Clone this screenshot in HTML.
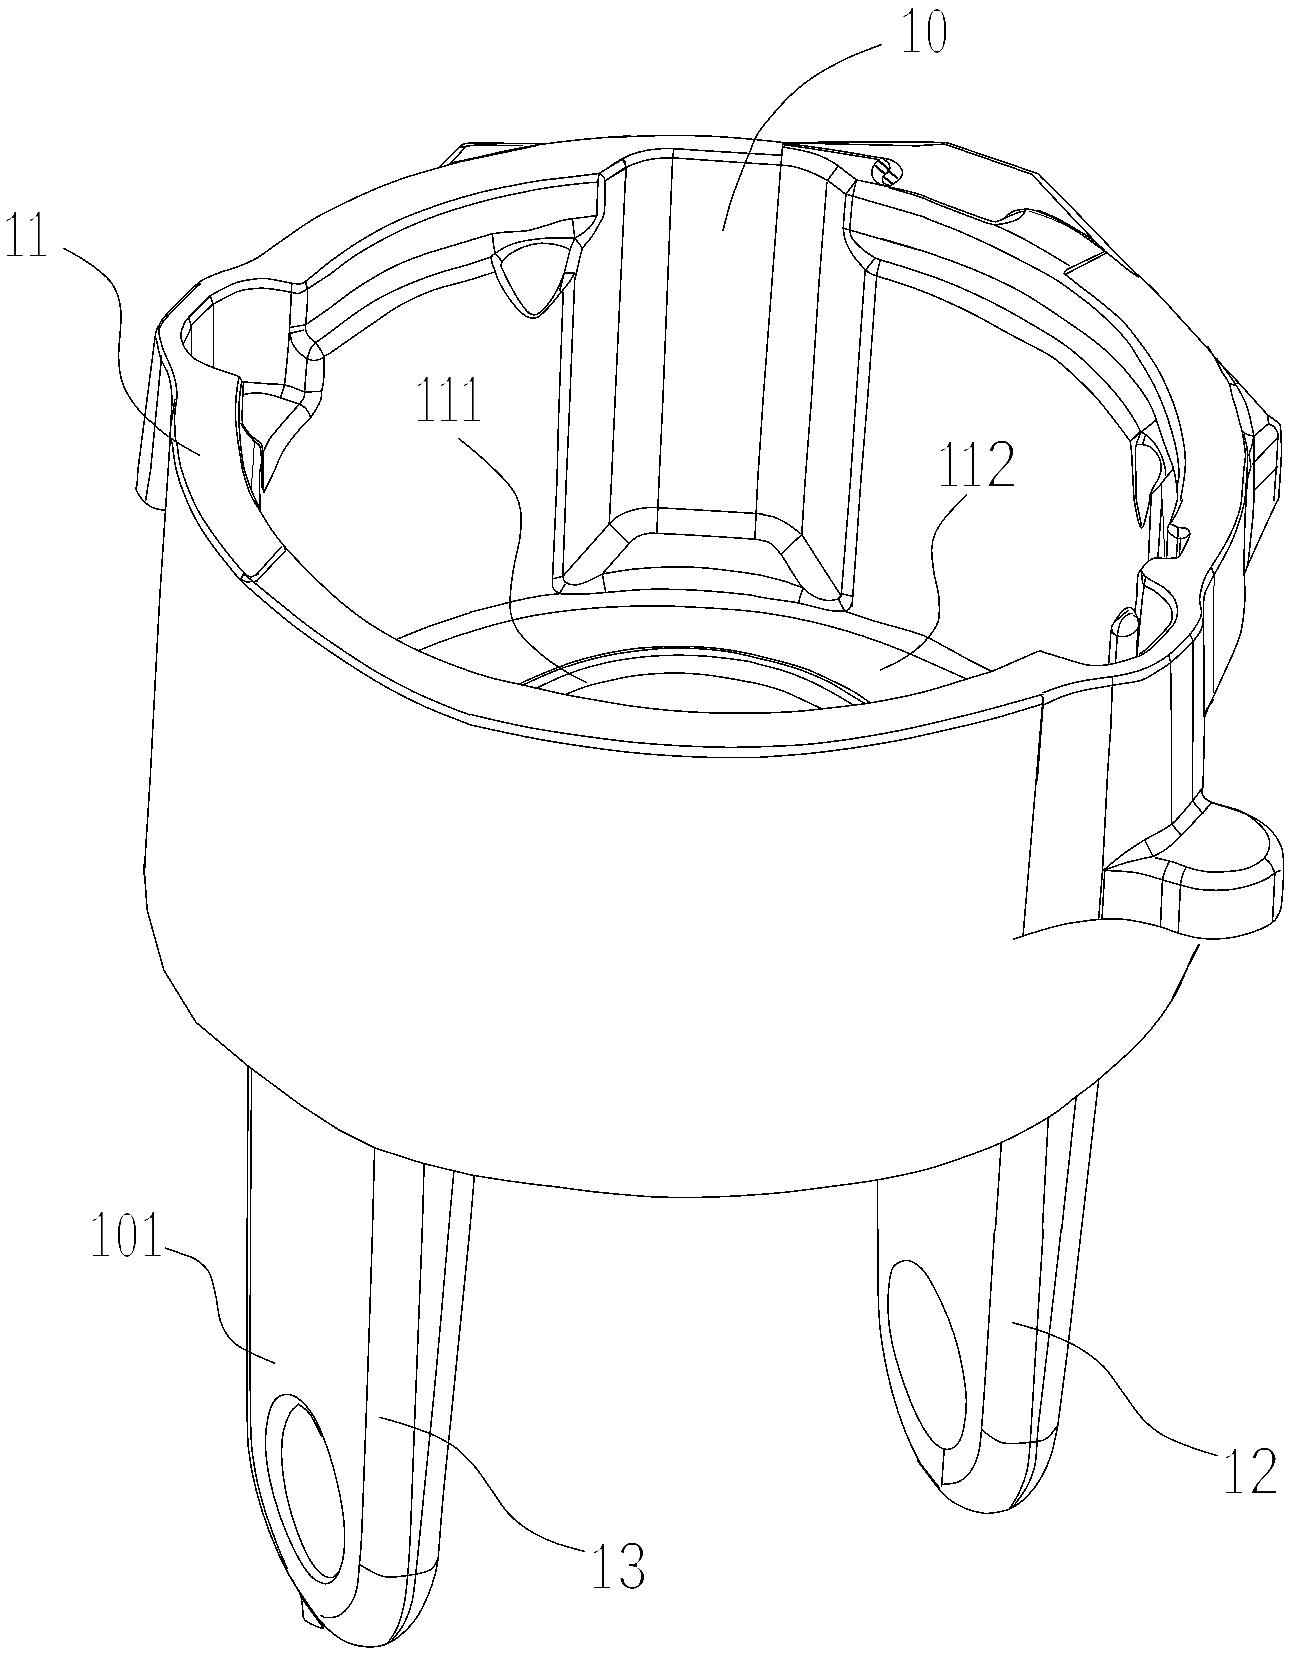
<!DOCTYPE html>
<html><head><meta charset="utf-8"><title>Figure</title>
<style>
html,body{margin:0;padding:0;background:#fff;}
body{width:1293px;height:1657px;overflow:hidden;position:relative;font-family:"Liberation Serif",serif;}
svg{position:absolute;left:0;top:0;display:block}
.m{fill:none;stroke:#000;stroke-width:1.55;stroke-linecap:round;stroke-linejoin:round}
.t{fill:none;stroke:#000;stroke-width:1.0;stroke-linecap:round;stroke-linejoin:round}
.lb{fill:#000;stroke:none}
.fm{font-family:"Liberation Mono",monospace}
.fs{font-family:"Liberation Sans",sans-serif}
.b{fill:none;stroke:#000;stroke-width:2.2;stroke-linecap:round;stroke-linejoin:round}
</style></head><body>
<svg width="1293" height="1657" viewBox="0 0 1293 1657" shape-rendering="crispEdges">
<path class="m" d="M376.4,188.4C372.5,190.2 362.3,194.6 353.2,198.9C344.1,203.2 329.2,210.7 321.9,214.4C314.6,218.2 313.6,219.0 309.5,221.6C305.4,224.2 301.2,227.1 297.1,229.9C293.0,232.7 288.9,235.7 284.7,238.6C280.6,241.5 277.1,243.9 272.4,247.2C267.6,250.6 261.7,255.4 256.1,258.5C250.6,261.7 245.3,263.8 239.1,266.2C232.9,268.6 224.9,270.6 218.7,273.0C212.4,275.4 206.8,277.4 201.7,280.6C196.6,283.9 192.6,288.3 188.1,292.5C183.5,296.8 178.6,301.9 174.4,306.1C170.3,310.4 166.1,314.7 163.4,318.1C160.7,321.5 159.5,324.3 158.3,326.6C157.1,328.8 156.6,329.7 156.1,331.7C155.5,333.7 155.1,337.3 154.9,338.5 M154.9,338.5 L137.9,470.0 M161.7,355.5 L150.6,470.0 M158.3,326.6C158.6,328.6 159.0,334.2 160.0,338.5C161.0,342.7 162.4,347.3 164.2,352.1C166.1,356.9 169.2,362.6 171.0,367.4C172.9,372.2 174.3,376.5 175.3,381.0C176.3,385.6 176.9,390.9 177.0,394.6C177.1,398.3 176.5,400.0 176.1,403.1C175.8,406.3 174.9,407.7 174.8,413.3C174.6,419.0 174.9,432.1 175.3,437.2C175.7,442.2 176.7,442.4 177.0,443.5 M156.1,338.5C156.9,341.9 158.9,353.2 160.8,358.9C162.8,364.6 165.9,368.0 167.6,372.5C169.3,377.0 170.3,381.6 171.0,386.1C171.8,390.7 171.9,394.1 171.9,399.7C171.9,405.4 171.3,413.9 171.0,420.1C170.8,426.4 170.0,433.3 170.2,437.2C170.4,441.0 171.9,442.4 172.2,443.5 M174.8,399.7 L171.0,425.3 M330.0,261.5 L305.5,281.5 M305.5,281.5C304.6,281.9 302.6,283.7 300.4,284.0C298.1,284.3 295.5,283.7 291.8,283.2C288.2,282.6 282.8,281.4 278.2,280.6C273.7,279.8 268.9,278.6 264.6,278.4C260.4,278.2 257.3,278.6 252.7,279.3C248.2,279.9 242.5,280.7 237.4,282.3C232.3,284.0 226.6,286.9 222.1,289.1C217.6,291.4 212.2,294.8 210.2,295.9 M210.2,295.9C206.5,299.6 192.5,313.2 188.1,318.1C183.7,322.9 185.0,322.3 183.8,324.9C182.6,327.4 181.2,330.5 180.9,333.4C180.6,336.2 181.2,339.0 182.1,341.9C183.0,344.7 184.2,347.6 186.4,350.4C188.5,353.2 191.2,356.3 194.9,358.9C198.6,361.4 203.9,363.7 208.5,365.7C213.0,367.7 218.1,369.4 222.1,370.8C226.1,372.2 229.5,373.2 232.3,374.2C235.1,375.2 237.5,375.6 239.1,376.8C240.7,377.9 241.2,380.3 241.7,381.0 M330.0,274.3 L307.2,289.1 M307.2,289.1C305.7,289.8 301.3,292.9 298.7,293.4C296.0,293.9 294.4,292.8 291.0,292.2C287.6,291.6 282.6,290.6 278.2,290.0C273.8,289.3 268.9,288.5 264.6,288.3C260.4,288.1 257.3,288.2 252.7,288.8C248.2,289.4 244.1,289.1 237.4,291.7C230.7,294.3 216.8,302.3 212.7,304.4 M212.7,304.4 L191.5,324.9 M210.2,295.9 L213.2,304.4 M188.9,318.1C189.2,319.8 191.5,324.2 190.6,328.3C189.8,332.4 184.9,340.3 183.8,342.7 M291.8,283.2C291.6,289.0 290.7,307.7 290.1,318.1C289.6,328.4 289.2,336.2 288.4,345.3C287.7,354.4 286.6,365.7 285.9,372.5C285.2,379.3 285.0,382.1 284.2,386.1C283.3,390.1 281.4,394.6 280.8,396.3 M305.5,281.5C305.8,283.0 307.2,286.7 307.5,290.8C307.8,294.9 307.5,300.2 307.2,306.1C306.8,312.1 305.7,322.6 305.5,326.6C305.2,330.5 305.5,329.4 305.5,330.0 M290.1,327.4 L305.5,324.9 M290.1,333.4 L303.8,330.0 M330.0,307.9 L305.5,324.9 M330.0,332.3 L315.7,342.7 M330.0,353.2 L324.2,356.3 M305.5,330.0C306.0,331.1 307.2,334.6 308.9,336.8C310.6,338.9 313.7,340.5 315.7,342.7C317.7,345.0 319.4,348.1 320.8,350.4C322.2,352.7 323.6,355.3 324.2,356.3 M290.1,333.4C290.4,334.8 290.7,339.0 291.8,341.9C293.0,344.7 295.0,348.0 297.0,350.4C298.9,352.8 302.1,354.9 303.8,356.3C305.5,357.8 306.6,358.5 307.2,358.9 M307.2,358.9C308.3,359.2 311.7,360.6 314.0,360.6C316.2,360.6 319.1,359.6 320.8,358.9C322.5,358.2 323.6,356.8 324.2,356.3 M315.7,342.7C314.8,343.7 312.0,346.0 310.6,348.7C309.1,351.4 307.7,357.2 307.2,358.9 M307.2,358.9C306.9,362.3 305.9,373.8 305.5,379.3C305.0,384.8 304.8,389.9 304.6,392.1 M324.2,356.3C324.2,358.5 324.3,364.7 324.2,369.1C324.0,373.5 323.8,379.0 323.3,382.7C322.9,386.4 322.0,388.4 321.6,391.2C321.2,394.1 321.8,396.6 320.8,399.7C319.8,402.8 317.4,407.0 315.7,409.9C314.0,412.9 311.4,416.3 310.6,417.6 M304.6,392.1 L321.6,391.2 M304.6,392.1C304.5,393.1 304.6,396.0 303.8,398.0C302.9,400.0 300.2,403.0 299.5,404.0 M241.7,381.9C245.5,382.1 257.3,383.0 264.6,383.6C272.0,384.1 279.2,383.8 285.9,385.3C292.6,386.7 301.5,390.9 304.6,392.1 M243.4,394.6C245.5,394.3 251.7,392.9 256.1,392.9C260.5,392.9 265.2,393.6 269.7,394.6C274.3,395.6 278.4,397.3 283.3,398.9C288.3,400.4 296.8,403.1 299.5,404.0 M299.5,404.0C300.5,404.7 303.9,406.7 305.5,408.2C307.0,409.8 308.0,411.8 308.9,413.3C309.7,414.9 310.3,416.9 310.6,417.6 M299.5,404.0C297.4,406.4 290.6,414.1 286.7,418.4C282.9,422.8 279.4,427.0 276.5,430.4C273.7,433.8 271.7,435.7 269.7,438.9C267.7,442.0 265.8,446.5 264.6,449.1C263.5,451.6 263.2,453.3 262.9,454.2 M310.6,417.6C308.6,419.7 302.6,425.7 298.7,430.4C294.7,435.0 289.9,441.1 286.7,445.7C283.6,450.2 281.9,453.5 279.9,457.6C278.0,461.6 275.7,467.9 274.8,470.0 M239.1,376.8C238.8,378.3 238.0,381.7 237.4,386.1C236.8,390.5 236.0,397.5 235.7,403.1C235.4,408.8 235.4,414.5 235.7,420.1C236.0,425.8 236.7,431.5 237.4,437.2C238.1,442.8 239.1,448.7 240.0,454.2C240.8,459.6 242.1,467.4 242.5,470.0 M241.7,381.0C241.2,384.7 239.5,396.0 239.1,403.1C238.7,410.2 239.0,417.9 239.1,423.5C239.2,429.2 239.5,432.1 240.0,437.2C240.4,442.3 240.9,448.7 241.7,454.2C242.4,459.6 243.8,467.4 244.2,470.0 M243.4,382.7C243.2,386.1 242.7,396.9 242.5,403.1C242.3,409.4 242.0,416.5 242.2,420.1C242.3,423.8 242.2,423.0 243.4,425.3C244.5,427.5 247.2,431.3 249.3,433.8C251.4,436.2 254.1,438.0 256.1,439.7C258.1,441.4 260.1,441.6 261.2,444.0C262.4,446.4 262.6,449.8 262.9,454.2C263.2,458.5 262.9,467.4 262.9,470.0 M240.8,423.5C241.9,425.3 245.3,430.8 247.6,433.8C249.9,436.7 252.4,439.4 254.4,441.4C256.4,443.4 258.4,443.5 259.5,445.7C260.7,447.8 260.9,450.1 261.2,454.2C261.5,458.2 261.2,467.4 261.2,470.0 M376.4,188.4C381.0,186.7 393.8,181.5 404.2,178.0C414.7,174.5 428.2,170.7 439.0,167.6C449.9,164.5 458.4,162.2 469.2,159.4C480.0,156.7 492.4,153.8 504.0,151.3C515.6,148.9 527.2,146.6 538.8,144.8C550.4,143.0 562.8,141.6 573.6,140.4C584.4,139.2 594.4,138.4 603.8,137.6C613.2,136.9 625.6,136.1 630.0,135.8 M439.0,167.6 L459.9,146.7 M459.9,146.7C460.5,146.3 461.9,144.7 463.4,144.1C465.0,143.5 467.1,143.4 469.2,143.2C471.3,143.0 475.0,143.2 476.2,143.2 M475.0,143.2 L543.5,143.4 M450.6,163.4 L466.4,146.0 M330.0,261.5C333.9,258.8 345.5,250.3 353.2,245.3C360.9,240.3 368.7,235.6 376.4,231.4C384.1,227.1 391.9,223.2 399.6,219.8C407.3,216.3 415.1,213.4 422.8,210.5C430.5,207.6 438.3,204.9 446.0,202.4C453.7,199.9 461.5,197.5 469.2,195.4C476.9,193.3 484.7,191.3 492.4,189.6C500.1,187.9 507.9,186.4 515.6,185.0C523.3,183.5 531.1,181.9 538.8,180.8C546.6,179.6 554.3,178.9 562.0,178.0C569.8,177.1 579.0,176.0 585.2,175.2C591.4,174.4 596.8,173.7 599.1,173.4 M599.1,173.4 L630.0,154.8 M330.0,274.3C333.9,271.4 345.5,262.1 353.2,256.9C360.9,251.7 368.7,247.3 376.4,243.0C384.1,238.6 391.9,234.6 399.6,230.9C407.3,227.2 415.1,224.0 422.8,220.9C430.5,217.8 438.3,215.0 446.0,212.3C453.7,209.7 461.5,207.4 469.2,205.2C476.9,202.9 484.7,200.8 492.4,198.9C500.1,197.0 507.9,195.4 515.6,193.8C523.3,192.2 531.1,190.5 538.8,189.1C546.6,187.8 554.3,186.7 562.0,185.7C569.8,184.7 579.2,183.7 585.2,183.1C591.2,182.5 595.9,182.3 598.0,182.2 M604.9,180.8 L630.0,165.7 M330.0,307.9C333.9,305.0 345.5,295.9 353.2,290.5C360.9,285.2 368.7,280.4 376.4,275.9C384.1,271.5 391.5,267.5 399.6,263.9C407.7,260.2 417.4,256.8 425.1,254.1C432.9,251.4 438.7,249.9 446.0,247.6C453.4,245.4 461.5,243.0 469.2,240.6C476.9,238.3 488.5,234.8 492.4,233.7 M492.4,233.7C494.7,233.4 500.5,232.6 506.3,232.1C512.1,231.6 521.0,231.6 527.2,230.7C533.4,229.7 537.7,228.0 543.5,226.3C549.3,224.6 557.0,221.7 562.0,220.5C567.0,219.2 567.8,219.4 573.6,218.6C579.4,217.8 593.0,216.1 596.8,215.6 M330.0,332.3C333.9,329.4 345.5,320.3 353.2,314.9C360.9,309.5 368.7,304.3 376.4,299.8C384.1,295.4 391.5,291.9 399.6,288.2C407.7,284.5 417.4,280.7 425.1,277.8C432.9,274.9 438.7,273.1 446.0,270.8C453.4,268.6 461.5,266.7 469.2,264.3C476.9,261.9 488.5,257.7 492.4,256.4 M330.0,353.2C333.9,350.5 346.2,341.8 353.2,336.9C360.2,332.1 364.0,329.4 371.8,324.2C379.5,319.0 389.6,311.2 399.6,305.6C409.7,300.0 420.5,294.8 432.1,290.5C443.7,286.3 458.8,283.2 469.2,280.1C479.7,277.0 490.5,273.3 494.7,272.0 M599.1,173.4C599.7,173.8 601.7,174.4 602.6,175.7C603.6,176.9 604.6,176.5 604.9,180.8C605.3,185.0 605.1,195.5 604.9,201.2C604.7,206.9 604.7,211.3 603.8,215.1C602.8,219.0 601.1,220.9 599.1,224.4C597.2,227.9 594.9,232.1 592.2,236.0C589.5,239.9 584.4,245.7 582.9,247.6 M599.1,173.4C598.9,174.8 598.3,177.9 598.0,182.2C597.7,186.4 597.5,193.3 597.3,198.9C597.1,204.5 596.9,212.8 596.8,215.6 M596.8,215.6C596.0,217.1 594.1,221.8 592.2,224.4C590.2,227.0 588.1,229.0 585.2,231.4C582.3,233.7 576.5,237.2 574.8,238.3 M492.4,233.7C492.6,235.6 493.1,242.0 493.6,245.3C494.0,248.6 494.9,252.1 495.2,253.4 M495.2,253.4C494.5,254.0 491.7,255.2 491.3,256.9C490.8,258.6 491.6,261.1 492.4,263.9C493.2,266.6 495.3,271.6 495.9,273.1 M495.2,253.4C496.3,254.8 500.8,259.6 501.7,261.5C502.6,263.5 500.7,264.4 500.5,265.0 M495.2,253.4C497.1,252.3 502.2,248.4 506.3,246.5C510.5,244.5 514.8,243.1 520.3,241.8C525.7,240.5 532.6,239.5 538.8,238.8C545.0,238.1 551.4,237.9 557.4,237.9C563.4,237.8 571.9,238.3 574.8,238.3 M501.7,261.5C503.2,260.2 507.1,255.9 511.0,253.4C514.8,250.9 520.3,248.1 524.9,246.5C529.5,244.8 534.2,243.8 538.8,243.4C543.5,243.0 548.5,243.5 552.7,244.1C557.0,244.7 561.4,246.2 564.3,247.1C567.2,248.1 569.2,249.5 570.1,249.9 M572.5,218.6C572.7,220.3 573.2,225.8 573.6,229.0C574.0,232.3 574.6,236.8 574.8,238.3 M574.8,238.3C575.9,239.9 580.8,244.9 581.7,247.6C582.7,250.3 581.7,249.2 580.6,254.6C579.4,260.0 575.7,275.8 574.8,280.1 M574.8,238.3C574.0,240.3 571.9,244.1 570.1,249.9C568.4,255.7 566.1,266.4 564.3,273.1C562.6,279.9 560.5,287.6 559.7,290.5 M564.3,273.1 L574.8,273.1 M492.4,263.9C493.6,266.9 496.3,276.2 499.4,282.4C502.5,288.6 507.1,295.8 511.0,301.0C514.8,306.2 519.5,311.0 522.6,313.7C525.7,316.5 527.0,317.1 529.5,317.7C532.0,318.3 534.6,318.8 537.7,317.2C540.8,315.6 544.4,311.8 548.1,307.9C551.8,304.1 556.2,298.3 559.7,294.0C563.2,289.8 566.5,285.9 569.0,282.4C571.5,278.9 573.8,274.7 574.8,273.1 M500.5,265.0C501.9,267.9 505.8,276.8 508.7,282.4C511.6,288.0 514.8,293.8 517.9,298.7C521.0,303.5 524.5,308.7 527.2,311.4C529.9,314.1 531.9,314.9 534.2,314.9C536.5,314.9 538.4,313.7 541.1,311.4C543.8,309.1 547.5,305.0 550.4,301.0C553.3,296.9 556.4,291.3 558.5,287.1C560.7,282.8 562.2,277.8 563.2,275.5C564.1,273.1 564.1,273.5 564.3,273.1 M559.7,290.5 L563.2,292.9 M563.2,292.9 L558.5,420.0 L557.0,480.0 M574.8,277.8 L569.0,420.0 L566.3,480.0 M624.7,160.6C624.9,162.2 625.9,167.0 626.1,169.9C626.2,172.8 625.9,176.7 625.8,178.0 M610.0,137.6C615.8,137.3 633.2,136.3 644.8,136.0C656.4,135.6 668.0,135.4 679.6,135.5C691.2,135.6 702.8,135.8 714.4,136.4C726.0,137.0 737.8,138.0 749.2,139.0C760.6,140.0 777.2,141.9 782.9,142.5 M610.0,166.1C611.9,165.0 617.7,161.2 621.6,159.2C625.5,157.1 628.9,155.3 633.2,153.8C637.5,152.4 642.5,151.2 647.1,150.3C651.8,149.5 656.6,149.0 661.0,148.7C665.5,148.5 666.8,148.4 673.8,148.7C680.8,149.0 690.2,149.8 702.8,150.6C715.4,151.4 736.3,152.6 749.2,153.4C762.2,154.1 775.3,154.9 780.5,155.2 M610.0,177.7C612.3,176.2 619.3,171.0 623.9,168.4C628.6,165.9 633.2,164.2 637.8,162.6C642.5,161.1 647.5,159.9 651.8,159.2C656.0,158.4 659.7,158.2 663.4,158.0C667.0,157.8 667.2,157.7 673.8,158.0C680.4,158.3 690.2,159.0 702.8,159.9C715.4,160.7 736.3,162.3 749.2,163.1C762.2,164.0 775.3,164.7 780.5,165.0 M673.8,148.7 L672.6,158.0 L670.3,216.0 L662.9,400.0 L659.1,480.0 M622.8,159.9C623.2,160.7 624.8,163.3 625.3,165.0C625.8,166.6 625.7,168.8 625.8,169.6 M625.8,169.6 L621.6,262.4 L615.1,400.0 L611.5,480.0 M782.9,142.5 L780.5,169.6 L763.1,400.0 L757.7,480.0 M826.9,182.4 L818.8,285.6 L811.4,400.0 L805.2,480.0 M880.3,260.1 L876.8,274.0 L867.5,400.0 L860.9,480.0 M865.2,269.4 L855.9,400.0 L850.5,480.0 M881.6,44.5C876.8,46.4 861.3,52.0 852.8,55.7C844.3,59.4 837.3,63.1 830.5,66.8C823.7,70.5 817.8,73.9 812.0,78.0C806.1,82.0 800.5,86.3 795.3,91.0C790.0,95.6 786.5,98.9 780.4,105.8C774.3,112.7 763.7,124.6 758.5,132.5C753.3,140.4 752.3,146.0 749.2,153.4C746.1,160.7 743.0,168.4 739.9,176.6C736.8,184.7 733.5,193.1 730.6,202.1C727.8,211.1 724.3,225.7 723.0,230.4 M783.5,142.4 L920.0,141.9 M783.5,142.8 L920.0,145.9 M783.5,143.4C787.8,143.9 799.0,145.1 809.5,146.5C820.0,147.9 836.3,150.4 846.6,152.1C856.9,153.7 865.2,155.4 871.4,156.4C877.6,157.4 880.4,157.6 883.7,158.3C887.0,158.9 888.9,159.2 891.2,160.1C893.4,161.0 895.6,162.3 897.4,163.8C899.1,165.4 900.9,167.6 901.7,169.4C902.5,171.1 902.6,172.8 902.3,174.3C902.0,175.9 901.1,177.2 899.8,178.7C898.6,180.1 895.7,182.3 894.9,183.0 M783.5,144.6C787.8,145.3 799.0,146.8 809.5,148.4C820.0,150.0 835.1,152.4 846.6,154.3C858.2,156.2 873.4,158.6 878.8,159.5 M783.5,147.1C785.8,147.5 792.2,148.6 797.1,149.6C802.1,150.6 808.3,151.8 813.2,153.3C818.2,154.9 822.7,156.8 826.8,158.9C830.9,160.9 834.7,163.4 838.0,165.7C841.3,168.0 843.5,170.1 846.6,172.5C849.7,174.9 854.9,178.7 856.5,179.9 M760.0,163.8C763.5,164.0 775.7,164.7 781.0,165.1C786.4,165.5 788.5,165.6 792.2,166.3C795.9,167.0 799.4,168.1 803.3,169.4C807.2,170.7 811.7,172.5 815.7,174.3C819.7,176.2 823.9,178.4 827.4,180.5C830.9,182.7 833.7,185.1 836.7,187.3C839.7,189.6 843.9,193.0 845.4,194.1 M838.0,166.3 L827.4,180.5 M856.5,179.9 L846.0,194.1 M856.5,179.9C855.9,182.7 853.7,190.7 852.8,196.6C851.9,202.5 851.5,209.6 851.0,215.2C850.4,220.8 849.9,227.6 849.7,230.0 M846.0,194.1C845.7,197.7 844.6,209.4 844.1,215.2C843.7,221.0 843.4,224.9 843.5,228.8C843.6,232.7 843.8,235.4 844.8,238.7C845.7,242.0 847.3,245.3 849.1,248.6C850.8,251.9 852.6,255.0 855.3,258.5C858.0,262.0 863.5,267.8 865.2,269.6 M849.7,230.0C850.0,231.3 850.2,235.0 851.6,237.5C852.9,239.9 855.3,242.4 857.8,244.9C860.2,247.4 863.5,250.1 866.4,252.3C869.3,254.5 873.6,256.9 875.1,257.9 M875.1,257.9 L865.8,270.0 M878.8,159.5C878.1,160.3 875.6,162.6 874.5,164.4C873.3,166.3 872.3,168.6 872.0,170.6C871.7,172.7 871.9,175.0 872.6,176.8C873.3,178.7 874.9,180.4 876.3,181.8C877.8,183.1 879.2,184.2 881.3,184.9C883.3,185.5 887.5,185.6 888.7,185.7 M883.7,159.5C884.6,160.1 887.7,161.8 888.7,163.2C889.7,164.7 889.9,166.7 889.9,168.2C889.9,169.6 889.5,170.8 888.7,171.9C887.9,172.9 886.0,173.3 885.0,174.3C883.9,175.4 882.7,176.6 882.5,178.1C882.3,179.5 882.5,181.8 883.7,183.0C885.0,184.2 888.2,185.4 889.9,185.5C891.7,185.6 893.5,183.9 894.3,183.6 M856.5,179.9C859.0,180.4 865.0,181.6 871.4,183.0C877.8,184.4 886.8,186.3 894.9,188.2C903.0,190.1 913.1,192.3 920.0,194.5C926.9,196.7 925.2,197.0 936.4,201.2C947.6,205.4 977.4,216.4 987.4,219.8C997.5,223.1 994.0,221.6 996.7,221.4C999.4,221.2 1001.4,220.0 1003.7,218.6C1006.0,217.2 1008.3,214.2 1010.6,212.8C1013.0,211.4 1014.5,210.6 1017.6,210.0C1020.7,209.4 1025.7,209.1 1029.2,209.3C1032.7,209.6 1034.6,210.3 1038.5,211.6C1042.4,213.0 1047.0,214.7 1052.4,217.4C1057.8,220.2 1065.2,224.4 1071.0,227.9C1076.8,231.4 1081.4,234.3 1087.2,238.3C1093.0,242.4 1102.7,249.9 1105.8,252.3 M888.7,187.7C893.9,189.2 912.0,194.2 920.0,196.9C928.0,199.5 925.5,199.5 936.4,203.8C947.3,208.0 975.1,218.9 985.1,222.3C995.2,225.8 992.9,224.4 996.7,224.4C1000.6,224.4 1004.8,223.4 1008.3,222.6C1011.8,221.7 1015.1,220.7 1017.6,219.3C1020.1,217.9 1022.2,215.4 1023.4,214.0C1024.6,212.6 1024.8,211.5 1025.0,211.0 M1003.7,218.8C1004.8,218.3 1008.1,216.7 1010.6,215.6C1013.2,214.5 1016.3,213.1 1018.8,212.3C1021.3,211.6 1024.6,211.2 1025.7,211.0 M1038.5,210.5C1041.6,211.8 1050.9,215.3 1057.1,218.4C1063.2,221.5 1069.8,225.6 1075.6,229.0C1081.4,232.5 1087.0,235.7 1091.9,239.3C1096.7,242.8 1102.5,248.5 1104.6,250.4 M846.0,194.1C850.2,195.4 859.0,198.0 871.4,201.6C883.7,205.2 910.2,212.7 920.0,215.8C929.8,218.9 924.1,217.5 930.4,220.0C936.8,222.5 948.5,226.7 958.3,230.8C968.1,235.0 978.9,239.9 989.2,244.7C999.5,249.6 1009.5,254.7 1020.1,260.2C1030.8,265.8 1043.8,272.3 1053.2,278.0C1062.6,283.7 1068.7,288.4 1076.4,294.2C1084.1,300.0 1091.3,305.2 1099.6,312.8C1107.9,320.4 1119.9,332.2 1126.4,340.0C1133.0,347.8 1134.9,352.9 1139.0,359.3C1143.0,365.7 1147.3,372.8 1150.5,378.6C1153.8,384.4 1155.7,388.3 1158.3,394.1C1160.8,399.9 1163.7,407.1 1166.0,413.4C1168.2,419.6 1170.2,426.2 1171.8,431.7C1173.4,437.2 1174.6,441.4 1175.6,446.2C1176.7,451.0 1177.5,455.9 1178.1,460.7C1178.6,465.5 1179.1,471.1 1179.0,475.2C1178.9,479.2 1177.8,480.7 1177.6,484.8C1177.3,488.9 1177.6,497.4 1177.6,500.0 M843.5,228.8C844.6,229.0 837.0,226.4 849.7,230.0C862.5,233.6 914.8,249.0 920.0,250.4C925.2,251.9 879.7,238.2 880.9,238.6C882.2,238.9 911.9,247.3 927.3,252.5C942.8,257.6 960.9,264.3 973.7,269.5C986.6,274.7 995.7,279.0 1004.7,283.4C1013.7,287.8 1018.5,290.1 1027.9,295.8C1037.3,301.5 1050.3,310.2 1060.9,317.4C1071.6,324.7 1082.8,332.1 1091.9,339.1C1100.9,346.1 1107.9,352.0 1115.1,359.2C1122.3,366.4 1129.5,375.2 1135.2,382.4C1140.9,389.6 1145.6,396.3 1149.1,402.5C1152.6,408.8 1155.2,417.0 1156.4,419.9 M875.1,257.9C875.9,258.2 873.9,257.8 880.0,259.7C886.2,261.7 901.4,266.1 911.9,269.5C922.3,272.9 932.5,276.3 942.8,280.3C953.1,284.3 963.4,288.7 973.7,293.5C984.1,298.2 995.7,304.2 1004.7,308.9C1013.7,313.7 1018.5,316.5 1027.9,322.1C1037.3,327.6 1051.6,335.8 1060.9,342.2C1070.3,348.6 1076.4,353.8 1084.1,360.8C1091.9,367.7 1100.9,377.0 1107.3,384.0C1113.8,390.9 1118.3,396.5 1122.8,402.5C1127.3,408.5 1131.4,415.1 1134.5,420.0C1137.5,425.0 1139.9,430.2 1141.0,432.3 M865.5,269.5C866.2,270.1 867.5,272.1 870.1,273.4C872.7,274.7 874.0,274.9 880.9,277.2C887.9,279.6 901.6,283.5 911.9,287.3C922.2,291.0 932.5,295.1 942.8,299.7C953.1,304.2 963.4,309.1 973.7,314.4C984.1,319.6 995.7,326.5 1004.7,331.4C1013.7,336.3 1019.8,339.4 1027.9,343.7C1036.0,348.1 1045.1,352.0 1053.2,357.7C1061.3,363.3 1069.2,371.1 1076.4,377.8C1083.6,384.5 1090.2,390.8 1096.5,397.9C1102.8,404.9 1108.7,412.8 1114.3,420.0C1119.9,427.2 1127.5,437.6 1130.1,441.1 M993.9,224.6C998.2,226.7 1010.8,232.1 1020.1,237.0C1029.5,241.9 1041.9,249.3 1050.1,254.0C1058.3,258.8 1066.2,263.7 1069.4,265.6 M1064.0,273.4 L1066.3,269.8 L1104.2,251.7 M1065.3,274.4 L1105.8,253.4 M1064.0,273.4C1066.1,275.0 1070.5,278.8 1076.4,283.4C1082.3,288.1 1091.9,294.9 1099.6,301.2C1107.3,307.5 1116.4,314.8 1122.8,321.3C1129.2,327.8 1133.7,334.5 1138.0,340.0C1142.3,345.5 1145.2,349.5 1148.6,354.5C1152.0,359.5 1155.4,364.8 1158.3,369.9C1161.2,375.1 1163.6,380.1 1166.0,385.4C1168.4,390.7 1170.7,396.2 1172.8,401.8C1174.8,407.4 1176.9,413.4 1178.5,419.2C1180.2,425.0 1181.4,431.2 1182.4,436.5C1183.5,441.9 1184.3,446.2 1184.8,451.0C1185.3,455.9 1185.5,460.7 1185.3,465.5C1185.1,470.3 1184.7,474.2 1183.9,480.0C1183.1,485.7 1181.0,496.6 1180.5,500.0 M1040.8,176.8C1044.2,180.1 1053.7,189.1 1060.9,196.3C1068.2,203.6 1076.4,212.3 1084.1,220.3C1091.9,228.3 1101.7,238.4 1107.3,244.3C1113.0,250.2 1114.3,251.9 1118.2,255.9C1122.0,259.9 1125.9,263.9 1130.5,268.3C1135.2,272.7 1140.9,277.3 1146.0,282.2C1151.2,287.1 1156.3,292.3 1161.5,297.7C1166.6,303.1 1171.8,309.0 1176.9,314.7C1182.1,320.4 1187.3,326.0 1192.4,331.7C1197.6,337.4 1203.8,344.1 1207.9,348.7C1211.9,353.4 1212.7,355.0 1216.7,359.6C1220.8,364.1 1227.1,370.3 1232.2,375.8C1237.4,381.3 1241.7,386.2 1247.7,392.8C1253.6,399.4 1264.4,411.5 1267.8,415.2 M1031.5,173.8C1035.1,177.7 1045.7,189.1 1053.2,197.1C1060.7,205.1 1069.4,214.5 1076.4,221.9C1083.4,229.2 1090.3,236.4 1095.0,241.2C1099.6,246.0 1100.6,247.3 1104.2,250.5C1107.9,253.7 1112.5,257.2 1116.6,260.5C1120.7,263.9 1125.4,267.9 1129.0,270.6C1132.6,273.3 1136.7,275.8 1138.3,276.8 M1207.9,346.8C1209.2,348.9 1213.3,355.1 1215.6,359.2C1217.9,363.3 1219.6,367.5 1221.8,371.6C1224.1,375.6 1227.4,379.5 1229.1,383.5C1230.9,387.6 1230.9,391.3 1232.2,395.9C1233.5,400.5 1235.6,406.7 1236.9,411.4C1238.1,416.0 1239.0,420.4 1239.9,423.7C1240.8,427.1 1241.9,430.2 1242.3,431.5 M1217.2,359.2C1218.9,361.5 1224.3,368.1 1227.6,372.7C1230.9,377.3 1234.0,382.0 1236.9,386.6C1239.7,391.3 1242.5,395.9 1244.6,400.5C1246.6,405.2 1247.9,409.8 1249.2,414.5C1250.5,419.1 1251.5,424.8 1252.3,428.4C1253.1,432.0 1253.6,434.8 1253.9,436.1 M919.9,142.0 L944.5,142.5 L948.0,143.0 L1038.5,173.8 L1040.8,176.8 M919.9,145.5 L944.5,144.1 L1030.4,173.8 M1267.8,415.2C1269.1,416.1 1273.5,419.0 1275.5,420.6C1277.6,422.3 1279.3,422.7 1280.2,425.3C1281.1,427.9 1280.7,431.2 1280.9,436.1C1281.1,441.0 1281.8,444.0 1281.4,454.7C1281.0,465.3 1279.1,492.4 1278.6,500.0 M1267.8,416.0 L1268.6,423.7 L1253.9,436.1 M1268.6,423.7C1269.5,424.3 1272.4,425.3 1274.0,426.8C1275.5,428.4 1277.2,431.2 1277.8,433.0C1278.5,434.8 1278.0,434.1 1277.8,437.7C1277.7,441.3 1277.7,444.3 1277.1,454.7C1276.4,465.1 1274.5,492.4 1274.0,500.0 M1277.8,437.7 L1252.3,464.0 M1277.1,467.1 L1253.9,491.0 M1229.1,383.5 L1233.8,385.1 L1237.6,382.8 M1242.3,431.5C1243.2,432.0 1245.7,433.8 1247.7,434.6C1249.6,435.3 1252.8,435.9 1253.9,436.1 M1242.3,431.5C1242.8,435.3 1245.1,448.2 1245.4,454.7C1245.6,461.1 1244.5,462.6 1243.8,470.1C1243.2,477.7 1241.9,495.0 1241.5,500.0 M1243.8,434.6C1244.5,437.9 1247.5,443.8 1247.7,454.7C1247.9,465.6 1245.5,492.4 1245.0,500.0 M1253.9,436.1C1253.5,437.9 1252.3,443.9 1251.5,446.9C1250.8,450.0 1249.4,451.3 1249.2,454.7C1249.1,458.0 1251.0,463.2 1250.8,467.1C1250.5,470.9 1248.5,472.4 1247.7,477.9C1246.9,483.4 1246.4,496.3 1246.1,500.0 M1253.9,436.1 L1253.9,500.0 M1156.4,419.9 L1141.0,432.3 L1130.1,441.1 M1134.8,436.4 L1139.4,431.8 M1130.1,441.1C1130.4,443.3 1131.0,444.9 1131.7,454.7C1132.3,464.5 1133.6,492.4 1134.0,500.0 M1141.0,432.3C1140.2,434.3 1137.2,440.9 1136.3,444.6C1135.4,448.4 1135.5,445.4 1135.5,454.7C1135.5,463.9 1136.2,492.4 1136.3,500.0 M1145.6,434.6 L1142.5,444.6 M1141.0,432.3C1141.7,432.6 1143.3,432.6 1145.6,434.6C1147.9,436.5 1152.3,440.5 1154.9,443.9C1157.4,447.2 1159.4,450.8 1161.1,454.7C1162.7,458.5 1164.2,463.7 1164.9,467.1C1165.7,470.4 1165.6,473.5 1165.7,474.8 M1136.3,444.6C1137.3,444.6 1140.2,444.2 1142.5,444.6C1144.8,445.0 1147.9,445.5 1150.2,446.9C1152.6,448.4 1154.7,450.8 1156.4,453.1C1158.1,455.5 1159.5,458.0 1160.3,460.9C1161.1,463.7 1161.4,467.1 1161.1,470.1C1160.7,473.2 1159.3,476.6 1158.0,479.4C1156.7,482.3 1154.6,484.6 1153.3,487.2C1152.0,489.7 1150.9,492.8 1150.2,494.9C1149.6,497.0 1149.6,499.1 1149.5,500.0 M1156.4,419.9C1157.2,422.3 1159.3,429.3 1161.1,434.6C1162.9,439.9 1165.2,445.9 1167.2,451.6C1169.3,457.3 1171.9,463.1 1173.4,468.6C1175.0,474.1 1175.9,480.7 1176.5,484.8C1177.2,489.0 1177.2,491.9 1177.3,493.3 M1173.4,468.6 L1165.7,477.9 L1158.0,487.9 L1152.6,493.3 M1134.1,499.9C1134.7,503.0 1136.6,514.1 1137.7,518.7C1138.8,523.2 1139.7,526.2 1140.6,527.4C1141.6,528.5 1142.4,528.2 1143.5,525.4C1144.7,522.7 1146.1,516.3 1147.4,510.9C1148.7,505.6 1150.6,496.4 1151.3,493.5 M1136.4,499.9C1136.9,502.7 1138.9,512.6 1139.7,516.7C1140.5,520.9 1141.0,523.5 1141.2,524.9 M1151.3,492.6 L1148.4,561.2 M1161.9,499.9 L1158.0,556.4 M1177.4,499.9C1176.6,502.4 1174.2,510.9 1172.9,514.8C1171.6,518.7 1170.2,522.1 1169.6,523.5 M1182.6,499.9C1181.6,502.1 1178.8,508.9 1176.8,512.9C1174.8,516.8 1171.6,521.7 1170.6,523.5 M1169.6,523.5C1171.1,524.1 1175.6,526.6 1178.3,527.4C1181.1,528.2 1184.1,527.4 1186.1,528.3C1188.0,529.3 1189.6,531.2 1189.9,533.2C1190.3,535.1 1189.3,536.9 1188.0,539.9C1186.7,543.0 1183.8,548.6 1182.2,551.5C1180.6,554.4 1180.3,556.2 1178.3,557.3C1176.4,558.5 1173.2,558.1 1170.6,558.3C1168.0,558.5 1165.6,558.3 1162.9,558.3C1160.1,558.3 1156.6,557.8 1154.2,558.3C1151.8,558.8 1150.6,559.3 1148.4,561.2C1146.1,563.1 1141.9,568.5 1140.6,569.9 M1169.6,523.5C1169.3,524.6 1166.6,527.9 1167.7,530.3C1168.8,532.7 1173.7,536.7 1176.4,538.0C1179.1,539.3 1182.1,538.5 1184.1,538.0C1186.2,537.5 1188.2,535.6 1189.0,535.1 M1167.7,530.3 L1166.7,557.3 M1178.3,528.3 L1176.4,557.3 M1180.7,538.0 L1179.3,555.4 M1140.6,569.9C1140.2,571.0 1138.4,572.3 1137.7,576.7C1137.1,581.0 1137.3,590.2 1136.8,596.0C1136.3,601.8 1135.2,608.9 1134.8,611.5 M1134.8,611.5C1134.2,610.8 1132.7,607.9 1131.0,607.6C1129.2,607.3 1126.5,607.9 1124.2,609.5C1122.0,611.2 1119.5,614.4 1117.4,617.3C1115.3,620.2 1112.6,625.3 1111.6,626.9 M1140.6,569.9C1141.4,571.0 1143.1,574.6 1145.5,576.7C1147.9,578.8 1151.9,580.5 1155.1,582.5C1158.4,584.4 1161.9,586.0 1164.8,588.3C1167.7,590.5 1170.6,593.4 1172.5,596.0C1174.5,598.6 1175.6,600.8 1176.4,603.7C1177.2,606.6 1177.7,610.2 1177.4,613.4C1177.1,616.6 1176.9,619.2 1174.5,623.1C1172.1,626.9 1166.7,632.4 1162.9,636.6C1159.0,640.8 1154.8,645.2 1151.3,648.2C1147.7,651.3 1144.0,653.5 1141.6,655.0C1139.2,656.4 1137.6,656.6 1136.8,656.9 M1141.6,572.8C1141.9,574.7 1141.6,581.5 1143.5,584.4C1145.5,587.3 1150.0,588.0 1153.2,590.2C1156.4,592.5 1160.1,595.4 1162.9,597.9C1165.6,600.5 1168.1,603.1 1169.6,605.7C1171.2,608.3 1172.0,610.5 1172.2,613.4C1172.3,616.3 1172.8,619.2 1170.6,623.1C1168.4,626.9 1162.9,632.4 1159.0,636.6C1155.1,640.8 1150.6,645.3 1147.4,648.2C1144.2,651.1 1141.0,653.0 1139.7,654.0 M1145.5,577.6 L1142.6,596.0 L1139.7,625.0 L1136.8,656.9 M1111.6,626.9 L1110.7,634.7 L1108.7,663.7 M1119.4,625.0 L1117.4,634.7 L1115.5,662.7 M1137.7,628.9 L1136.8,654.0 M1111.6,626.9C1111.8,627.9 1111.5,631.2 1112.6,632.7C1113.7,634.3 1116.2,635.6 1118.4,636.2C1120.7,636.8 1123.6,636.8 1126.1,636.2C1128.7,635.6 1131.8,634.3 1133.9,632.7C1136.0,631.2 1138.1,629.2 1138.7,626.9C1139.4,624.7 1138.4,621.8 1137.7,619.2C1137.1,616.6 1135.3,612.8 1134.8,611.5 M1119.4,625.0C1119.9,624.0 1120.8,621.0 1122.3,619.2C1123.7,617.4 1126.4,615.3 1128.1,614.4C1129.7,613.4 1131.6,613.6 1132.3,613.4 M1116.5,620.2 L1128.1,610.5 M1133.9,615.3 L1139.7,619.6 M1043.0,652.1C1046.2,653.0 1055.9,655.9 1062.3,657.9C1068.8,659.8 1076.5,662.4 1081.7,663.7C1086.8,665.0 1088.8,665.5 1093.3,665.6C1097.8,665.8 1103.6,665.5 1108.7,664.6C1113.9,663.8 1119.5,662.1 1124.2,660.8C1128.9,659.5 1134.7,657.6 1136.8,656.9 M1043.0,692.7C1046.2,691.6 1055.9,687.8 1062.3,685.9C1068.8,684.0 1075.2,682.4 1081.7,681.1C1088.1,679.8 1094.6,679.1 1101.0,678.2C1107.4,677.2 1113.9,676.6 1120.3,675.3C1126.8,674.0 1133.9,672.4 1139.7,670.4C1145.5,668.5 1150.3,666.3 1155.1,663.7C1160.0,661.1 1164.8,657.9 1168.7,655.0C1172.5,652.1 1174.8,649.7 1178.3,646.3C1181.9,642.9 1186.7,638.5 1189.9,634.7C1193.2,630.8 1195.7,626.6 1197.7,623.1C1199.6,619.5 1201.2,617.3 1201.5,613.4C1201.9,609.5 1199.6,604.1 1199.6,599.9C1199.6,595.7 1200.6,592.1 1201.5,588.3C1202.5,584.4 1203.8,580.2 1205.4,576.7C1207.0,573.1 1208.6,571.2 1211.2,567.0C1213.8,562.8 1217.7,557.0 1220.9,551.5C1224.1,546.1 1227.6,540.3 1230.5,534.1C1233.4,528.0 1236.4,520.5 1238.3,514.8C1240.2,509.1 1241.2,502.4 1241.8,499.9 M1043.0,705.3C1046.2,703.8 1055.9,699.0 1062.3,696.6C1068.8,694.1 1075.2,692.3 1081.7,690.8C1088.1,689.2 1094.6,688.4 1101.0,687.3C1107.4,686.1 1113.6,685.2 1120.3,684.0C1127.1,682.8 1135.2,682.4 1141.6,680.1C1148.1,677.9 1154.2,673.3 1159.0,670.4C1163.8,667.5 1166.7,665.8 1170.6,662.7C1174.5,659.7 1178.3,655.8 1182.2,652.1C1186.1,648.4 1190.6,644.3 1193.8,640.5C1197.0,636.6 1199.9,633.1 1201.5,628.9C1203.2,624.7 1203.2,619.5 1203.5,615.3C1203.8,611.2 1203.2,607.6 1203.5,603.7C1203.8,599.9 1203.8,596.7 1205.4,592.1C1207.0,587.6 1210.2,582.2 1213.1,576.7C1216.0,571.2 1219.6,565.4 1222.8,559.3C1226.0,553.2 1229.6,546.7 1232.5,539.9C1235.4,533.2 1238.1,525.3 1240.2,518.7C1242.3,512.0 1244.2,503.0 1245.0,499.9 M1168.7,655.0 L1170.6,662.7 M1189.9,633.7 L1192.8,640.5 M1211.2,567.0 L1214.1,575.7 M1112.6,678.2 L1110.7,730.0 M1170.6,662.7 L1171.6,730.0 M1192.8,640.5 L1192.8,730.0 M1203.5,615.3 L1204.4,730.0 M1246.4,499.9C1246.2,503.0 1245.4,507.5 1245.0,518.7C1244.7,529.9 1244.1,554.1 1244.1,567.0C1244.1,579.9 1245.2,587.3 1245.0,596.0C1244.9,604.7 1243.9,612.8 1243.1,619.2C1242.3,625.7 1241.7,629.5 1240.2,634.7C1238.8,639.8 1236.7,644.7 1234.4,650.1C1232.2,655.6 1229.6,661.1 1226.7,667.5C1223.8,674.0 1220.2,681.7 1217.0,688.8C1213.8,695.9 1209.4,705.3 1207.3,710.1C1205.3,714.9 1204.9,716.5 1204.4,717.8 M1253.9,499.9 L1252.8,518.7 L1247.9,565.1 M1277.7,499.9C1275.7,504.3 1270.3,515.5 1265.4,526.4C1260.4,537.3 1251.3,557.3 1247.9,565.1C1244.6,572.8 1245.5,571.5 1245.0,572.8 M1042.9,700.0 L1023.2,934.3 M1110.6,729.9 L1107.8,769.6 L1102.5,870.5 L1098.6,919.3 M1104.8,870.5 L1102.0,919.3 M1192.8,729.9 L1192.5,800.9 M1213.4,700.0C1212.1,701.9 1206.8,708.9 1205.3,711.6C1203.8,714.3 1204.3,715.5 1204.1,716.2 M1204.4,729.9 L1204.1,746.4 L1203.0,787.0 M1203.0,787.0C1202.8,788.0 1201.4,790.9 1201.8,792.8C1202.2,794.7 1203.4,796.9 1205.3,798.6C1207.2,800.3 1210.1,801.9 1213.4,803.2C1216.7,804.6 1220.8,805.4 1225.0,806.7C1229.3,808.1 1234.3,809.6 1238.9,811.4C1243.6,813.1 1248.2,814.7 1252.9,817.2C1257.5,819.7 1262.9,823.2 1266.8,826.5C1270.6,829.7 1273.5,833.2 1276.1,836.9C1278.6,840.6 1280.6,844.2 1281.9,848.5C1283.1,852.7 1283.3,856.2 1283.5,862.4C1283.7,868.6 1283.5,877.9 1283.0,885.6C1282.6,893.3 1282.1,903.0 1280.7,908.8C1279.3,914.6 1275.9,918.5 1274.9,920.4 M1200.7,790.5C1201.2,791.6 1202.4,795.5 1204.1,797.4C1205.9,799.4 1207.6,800.6 1211.1,802.1C1214.6,803.6 1220.0,804.7 1225.0,806.3C1230.0,807.8 1236.2,809.0 1241.3,811.4C1246.3,813.8 1251.3,817.6 1255.2,820.6C1259.0,823.7 1262.1,826.8 1264.5,829.9C1266.8,833.0 1268.3,836.1 1269.1,839.2C1269.9,842.3 1269.9,845.4 1269.1,848.5C1268.3,851.6 1266.8,855.1 1264.5,857.8C1262.1,860.5 1258.7,862.8 1255.2,864.7C1251.7,866.7 1248.6,868.2 1243.6,869.4C1238.6,870.5 1231.2,871.3 1225.0,871.7C1218.8,872.1 1212.3,872.3 1206.5,871.7C1200.7,871.1 1195.6,869.8 1190.2,868.2C1184.8,866.7 1179.8,864.2 1174.0,862.4C1168.2,860.7 1158.5,858.5 1155.4,857.8 M1203.0,787.0C1201.2,789.3 1197.8,794.7 1192.5,800.9C1187.3,807.1 1179.8,817.6 1171.7,824.1C1163.5,830.7 1151.9,835.3 1143.8,840.4C1135.7,845.4 1129.7,849.3 1122.9,854.3C1116.2,859.3 1106.5,867.8 1103.2,870.5 M1211.1,803.2C1209.6,805.0 1206.8,808.3 1201.8,813.7C1196.8,819.1 1186.7,829.9 1180.9,835.7C1175.1,841.5 1171.7,845.0 1167.0,848.5C1162.4,852.0 1155.4,855.3 1153.1,856.6 M1192.5,800.9 L1203.0,813.7 M1171.7,824.1 L1181.4,835.7 M1145.0,840.4 L1153.1,856.6 M1103.2,870.5C1106.5,869.4 1116.5,865.5 1122.9,863.6C1129.3,861.6 1136.5,860.1 1141.5,858.9C1146.5,857.8 1151.2,857.0 1153.1,856.6 M1103.2,870.5C1106.1,870.6 1115.0,870.8 1120.6,871.2C1126.2,871.6 1131.8,872.0 1136.9,872.9C1141.9,873.7 1146.5,875.2 1150.8,876.3C1155.0,877.5 1157.7,878.5 1162.4,879.8C1167.0,881.2 1172.8,882.9 1178.6,884.5C1184.4,886.0 1191.0,888.1 1197.2,889.1C1203.4,890.1 1209.6,890.3 1215.7,890.3C1221.9,890.3 1228.1,890.1 1234.3,889.1C1240.5,888.1 1247.4,886.2 1252.9,884.5C1258.3,882.7 1263.1,880.6 1266.8,878.7C1270.5,876.7 1272.6,874.2 1274.9,872.9C1277.2,871.5 1279.7,870.9 1280.7,870.5 M1264.5,857.8C1265.4,858.7 1268.5,861.1 1270.3,863.6C1272.0,866.1 1274.1,871.3 1274.9,872.9 M1169.3,861.3C1168.6,863.0 1165.9,868.6 1164.7,871.7C1163.5,874.8 1162.8,878.5 1162.4,879.8 M1185.6,868.2C1185.0,869.6 1182.9,873.6 1182.1,876.3C1181.2,879.0 1180.7,883.1 1180.5,884.5 M1162.4,879.8 L1160.5,926.2 M1180.5,884.5 L1178.2,933.2 M1274.9,872.9 L1272.6,920.4 M1013.9,939.0C1018.1,937.6 1031.3,933.3 1039.4,930.9C1047.5,928.5 1054.9,926.3 1062.6,924.6C1070.3,922.9 1079.2,921.8 1085.8,920.9C1092.4,920.0 1095.9,919.5 1102.0,919.3C1108.2,919.0 1116.4,918.8 1122.9,919.3C1129.5,919.8 1135.2,921.0 1141.5,922.3C1147.8,923.5 1154.3,925.1 1160.5,926.9C1166.7,928.7 1172.5,931.4 1178.6,933.2C1184.7,935.0 1191.0,936.9 1197.2,937.8C1203.4,938.8 1209.6,939.1 1215.7,939.0C1221.9,938.9 1228.1,938.3 1234.3,937.1C1240.5,936.0 1247.4,933.8 1252.9,932.0C1258.3,930.2 1263.1,928.2 1266.8,926.2C1270.5,924.3 1273.5,921.4 1274.9,920.4 M1199.5,944.8C1197.2,949.2 1190.2,962.3 1185.6,971.5C1180.9,980.7 1174.0,995.2 1171.7,1000.0 M760.0,713.2C765.8,712.9 784.0,712.3 794.8,711.6C805.6,710.8 812.2,710.0 825.0,708.5C837.7,707.1 855.1,705.4 871.4,702.7C887.6,700.0 906.2,696.4 922.4,692.3C938.7,688.2 957.2,681.9 968.8,678.4C980.4,674.9 988.2,672.6 992.0,671.4 M992.0,671.4 L1037.3,651.7 M1037.3,651.7C1037.8,651.6 1039.7,650.9 1040.7,651.0C1041.8,651.1 1043.1,652.0 1043.5,652.2 M760.0,746.8C767.7,746.4 790.9,745.9 806.4,744.5C821.9,743.1 837.3,741.0 852.8,738.7C868.3,736.4 883.7,733.7 899.2,730.6C914.7,727.5 930.1,723.8 945.6,720.1C961.1,716.5 975.8,712.9 992.0,708.5C1008.3,704.2 1034.6,696.6 1043.1,694.2 M760.0,757.3C767.7,756.7 790.9,755.3 806.4,753.8C821.9,752.2 837.3,750.2 852.8,748.0C868.3,745.7 883.7,743.3 899.2,740.3C914.7,737.3 930.1,733.7 945.6,730.1C961.1,726.6 975.7,723.4 992.0,719.0C1008.3,714.6 1034.9,706.2 1043.5,703.7 M1040.7,694.6C1041.1,695.2 1042.7,696.6 1043.1,698.1C1043.4,699.6 1043.1,702.9 1043.1,703.9 M1043.1,703.9 L1037.3,780.0 M805.2,480.0 L801.8,534.5 M850.5,480.0 L841.2,596.0 M860.9,480.0C859.6,499.3 854.4,575.5 852.8,596.0C851.3,616.5 852.2,600.8 851.6,603.0C851.1,605.1 850.5,607.4 849.3,608.8C848.2,610.1 845.5,610.7 844.7,611.1 M841.2,596.0C840.8,596.6 838.3,597.0 838.9,599.5C839.5,602.0 843.7,609.2 844.7,611.1 M841.2,593.7 L851.6,596.0 M760.0,514.3C762.3,514.8 769.3,515.5 773.9,517.1C778.6,518.7 783.2,521.2 787.8,524.1C792.5,527.0 799.4,532.8 801.8,534.5 M801.8,534.5 L818.0,560.0 L841.2,596.0 M760.0,540.3C761.5,540.7 765.8,540.3 769.3,542.6C772.8,545.0 777.0,549.2 780.9,554.2C784.7,559.3 788.8,567.2 792.5,572.8C796.2,578.4 799.4,584.0 802.9,587.9C806.4,591.8 809.7,594.0 813.4,596.0C817.0,598.1 821.1,599.6 825.0,600.2C828.8,600.8 833.9,600.2 836.6,599.5C839.3,598.8 840.4,596.6 841.2,596.0 M801.8,534.5 L780.9,554.2 M760.0,575.1C763.9,576.1 776.0,578.8 783.2,580.9C790.4,583.1 799.6,586.7 802.9,587.9 M802.9,587.9 L798.3,603.0 M760.0,597.2C763.9,597.7 776.8,599.7 783.2,600.6C789.6,601.6 790.5,601.3 798.3,603.0C806.0,604.6 821.9,609.0 829.6,610.4C837.3,611.7 842.2,611.0 844.7,611.1 M844.7,611.1C849.9,612.8 863.4,617.7 876.0,621.5C888.6,625.4 908.5,630.0 920.1,634.3C931.7,638.5 937.5,642.8 945.6,647.1C953.7,651.3 961.1,655.8 968.8,659.8C976.6,663.9 988.2,669.5 992.0,671.4 M760.0,612.3C765.8,613.2 783.2,615.7 794.8,618.1C806.4,620.4 818.0,623.1 829.6,626.2C841.2,629.3 852.8,632.7 864.4,636.6C876.0,640.5 887.6,644.7 899.2,649.4C910.8,654.0 922.6,659.4 934.0,664.5C945.4,669.5 962.0,677.0 967.7,679.5 M760.0,656.3C763.9,657.3 775.5,660.0 783.2,662.1C790.9,664.3 798.7,666.2 806.4,669.1C814.1,672.0 821.9,675.9 829.6,679.5C837.3,683.2 846.0,687.3 852.8,691.1C859.6,695.0 867.3,700.8 870.2,702.7 M760.0,658.7C763.9,659.6 775.5,662.2 783.2,664.5C790.9,666.7 798.7,669.1 806.4,672.1C814.1,675.1 822.6,678.8 829.6,682.3C836.6,685.9 842.4,690.0 848.2,693.5C854.0,696.9 861.7,701.6 864.4,703.2 M760.0,664.5C763.9,665.5 775.5,668.2 783.2,670.7C790.9,673.2 798.7,676.1 806.4,679.5C814.1,682.9 821.9,687.0 829.6,691.1C837.3,695.3 848.9,702.4 852.8,704.6 M760.0,684.2C763.9,685.3 775.5,688.2 783.2,691.1C790.9,694.0 799.8,698.6 806.4,701.6C813.0,704.6 819.9,708.0 822.6,709.2 M966.5,495.1C963.0,498.8 950.8,510.7 945.6,517.1C940.4,523.5 937.5,528.0 935.2,533.4C932.9,538.8 931.9,543.0 931.7,549.6C931.5,556.2 932.9,565.1 934.0,572.8C935.2,580.5 937.9,588.3 938.7,596.0C939.4,603.7 939.8,613.0 938.7,619.2C937.5,625.4 935.2,628.3 931.7,633.1C928.2,638.0 923.2,643.6 917.8,648.2C912.4,652.9 905.4,657.4 899.2,661.0C893.0,664.6 883.7,668.3 880.6,669.8 M557.0,480.0C556.6,488.5 555.4,514.4 554.7,531.0C554.0,547.7 552.8,570.2 552.6,579.8C552.4,589.4 552.4,586.3 553.5,588.6C554.6,590.9 558.4,592.8 559.3,593.7 M566.3,480.0 L562.8,576.3 M611.5,480.0 L609.2,524.1 M659.1,480.0 L656.8,533.4 M757.7,480.0 L754.9,539.2 M553.5,578.6 L562.8,576.3 M565.1,584.4 L559.3,593.7 M609.2,524.1C610.8,522.7 614.6,518.3 618.5,516.0C622.4,513.6 627.8,511.5 632.4,510.2C637.1,508.8 641.9,508.2 646.3,507.8C650.8,507.5 649.8,507.5 659.1,507.8C668.4,508.2 685.6,509.2 702.0,510.2C718.5,511.1 748.0,512.9 757.7,513.6C767.4,514.3 759.6,514.2 760.0,514.3 M628.9,543.8C630.3,542.6 633.8,538.6 637.1,536.8C640.3,535.1 645.4,533.9 648.7,533.4C651.9,532.8 647.9,533.0 656.8,533.4C665.7,533.8 685.7,534.7 702.0,535.7C718.4,536.7 745.3,538.4 754.9,539.2C764.6,539.9 759.2,540.1 760.0,540.3 M609.2,524.1 L628.9,543.8 M609.2,524.1 L562.8,576.3 M628.9,543.8 L602.3,574.0 M562.8,576.3C563.2,577.3 563.2,580.7 565.1,582.1C567.1,583.5 570.9,584.9 574.4,584.9C577.9,584.9 581.4,583.9 586.0,582.1C590.6,580.3 599.5,575.3 602.3,574.0 M602.3,574.0 L605.7,592.5 M602.3,574.0C607.3,573.2 621.6,570.5 632.4,569.3C643.2,568.2 655.6,567.3 667.2,567.0C678.8,566.7 690.4,566.9 702.0,567.7C713.6,568.5 727.2,570.4 736.8,571.6C746.5,572.9 756.2,574.5 760.0,575.1 M559.3,593.7C563.0,593.8 573.6,594.3 581.4,594.2C589.1,594.0 595.3,593.3 605.7,592.5C616.2,591.8 631.8,590.0 644.0,589.5C656.2,589.0 667.2,589.2 678.8,589.5C690.4,589.8 702.0,590.5 713.6,591.4C725.2,592.3 740.7,593.9 748.4,594.8C756.2,595.8 758.1,596.8 760.0,597.2 M470.0,612.3C473.9,611.3 485.5,608.4 493.2,606.5C500.9,604.5 508.7,602.4 516.4,600.6C524.1,598.9 532.5,597.2 539.6,596.0C546.8,594.8 556.0,594.1 559.3,593.7 M470.0,632.0C473.9,630.8 485.5,627.1 493.2,625.0C500.9,622.9 508.7,621.0 516.4,619.2C524.1,617.5 529.9,616.1 539.6,614.6C549.3,613.0 562.8,611.2 574.4,609.9C586.0,608.7 595.7,607.8 609.2,607.1C622.7,606.5 640.1,605.7 655.6,605.8C671.1,605.8 688.5,606.9 702.0,607.6C715.6,608.3 727.2,609.2 736.8,609.9C746.5,610.7 756.2,611.9 760.0,612.3 M518.7,684.2C522.2,682.6 532.3,678.0 539.6,674.9C547.0,671.8 555.1,668.4 562.8,665.6C570.5,662.8 578.3,660.3 586.0,658.2C593.7,656.1 601.5,654.4 609.2,652.9C616.9,651.3 624.7,649.9 632.4,648.9C640.1,647.9 647.9,647.5 655.6,647.1C663.3,646.6 671.1,646.4 678.8,646.4C686.6,646.4 694.3,646.6 702.0,647.1C709.8,647.6 717.5,648.3 725.2,649.4C733.0,650.5 742.6,652.4 748.4,653.5C754.2,654.7 758.1,655.9 760.0,656.3 M522.2,685.3C529.0,682.4 548.3,673.0 562.8,667.9C577.3,662.9 593.7,658.3 609.2,655.2C624.7,652.0 643.2,650.1 655.6,648.9C668.0,647.7 671.9,647.6 683.5,648.0C695.1,648.4 712.5,649.5 725.2,651.2C738.0,653.0 754.2,657.4 760.0,658.7 M535.0,688.8C539.6,686.7 554.3,679.5 562.8,676.1C571.3,672.6 578.3,670.3 586.0,667.9C593.7,665.6 601.5,663.8 609.2,662.1C616.9,660.5 624.7,659.2 632.4,658.2C640.1,657.1 647.9,656.4 655.6,655.9C663.3,655.4 671.1,655.2 678.8,655.2C686.6,655.2 694.3,655.4 702.0,655.9C709.8,656.4 717.5,657.3 725.2,658.2C733.0,659.1 742.6,660.4 748.4,661.4C754.2,662.5 758.1,664.0 760.0,664.5 M565.1,694.6C568.6,693.3 578.7,688.8 586.0,686.5C593.4,684.2 601.5,682.4 609.2,680.7C616.9,679.0 624.7,677.2 632.4,676.1C640.1,674.9 647.9,674.2 655.6,673.7C663.3,673.2 671.1,672.9 678.8,673.0C686.6,673.2 694.3,673.7 702.0,674.4C709.8,675.2 717.5,676.4 725.2,677.7C733.0,678.9 742.6,680.8 748.4,681.9C754.2,682.9 758.1,683.8 760.0,684.2 M470.0,671.4C473.9,672.6 485.1,676.2 493.2,678.4C501.3,680.5 511.0,682.4 518.7,684.2C526.5,685.9 531.9,687.1 539.6,688.8C547.3,690.6 555.5,692.7 565.1,694.6C574.8,696.6 586.4,698.5 597.6,700.4C608.8,702.4 620.8,704.6 632.4,706.2C644.0,707.8 655.6,709.1 667.2,710.2C678.8,711.2 690.4,712.0 702.0,712.5C713.6,713.0 727.2,713.1 736.8,713.2C746.5,713.3 756.2,713.2 760.0,713.2 M470.0,714.3C475.8,715.7 493.2,719.9 504.8,722.5C516.4,725.0 526.1,727.1 539.6,729.4C553.1,731.7 570.5,734.3 586.0,736.4C601.5,738.5 616.9,740.6 632.4,742.2C647.9,743.7 663.3,744.8 678.8,745.7C694.3,746.5 711.7,747.1 725.2,747.3C738.8,747.5 754.2,746.9 760.0,746.8 M470.0,724.8C475.8,726.1 493.2,730.0 504.8,732.4C516.4,734.9 526.1,737.0 539.6,739.4C553.1,741.8 570.5,744.6 586.0,746.8C601.5,749.0 616.9,751.1 632.4,752.6C647.9,754.2 663.3,755.3 678.8,756.1C694.3,757.0 711.7,757.5 725.2,757.7C738.8,757.9 754.2,757.3 760.0,757.3 M458.9,438.7C462.4,441.6 472.3,449.2 480.0,456.1C487.6,463.0 498.7,473.3 504.8,480.0C510.9,486.7 513.7,490.4 516.4,496.2C519.1,502.0 520.5,507.8 521.0,514.8C521.6,521.8 521.0,529.5 519.9,538.0C518.7,546.5 515.6,557.0 514.1,565.8C512.5,574.7 511.2,583.6 510.6,591.4C510.0,599.1 509.6,606.1 510.6,612.3C511.6,618.4 513.5,623.5 516.4,628.5C519.3,633.5 523.0,637.4 528.0,642.4C533.0,647.4 540.0,653.6 546.6,658.7C553.1,663.7 560.9,668.6 567.4,672.6C574.0,676.5 582.9,680.7 586.0,682.3 M172.3,443.5C172.9,447.5 173.9,459.5 175.8,467.8C177.7,476.2 180.6,484.9 183.9,493.4C187.2,501.9 190.9,510.4 195.5,518.9C200.2,527.4 206.3,536.7 211.8,544.4C217.2,552.1 223.0,559.1 228.0,565.3C233.0,571.5 236.1,575.7 241.9,581.5C247.7,587.3 254.7,593.1 262.8,600.1C270.9,607.1 281.0,615.8 290.6,623.3C300.3,630.8 310.0,637.8 320.8,645.3C331.6,652.9 344.0,661.2 355.6,668.5C367.2,675.9 378.8,683.0 390.4,689.4C402.0,695.8 412.0,700.9 425.2,706.8C438.5,712.7 462.5,721.7 470.0,724.7 M177.0,443.5C177.5,447.2 178.5,457.8 180.4,465.5C182.4,473.3 185.3,481.8 188.6,489.9C191.8,498.0 195.5,506.1 200.2,514.2C204.8,522.4 211.0,531.1 216.4,538.6C221.8,546.1 227.6,553.3 232.6,559.5C237.7,565.7 242.7,571.7 246.6,575.7C250.4,579.8 250.0,579.0 255.8,583.9C261.6,588.7 272.5,597.6 281.4,604.7C290.3,611.9 298.8,619.0 309.2,626.8C319.7,634.5 332.4,643.4 344.0,651.1C355.6,658.9 367.2,666.4 378.8,673.2C390.4,679.9 402.0,686.1 413.6,691.7C425.2,697.3 439.0,703.0 448.4,706.8C457.8,710.7 466.4,713.6 470.0,714.9 M242.4,469.9C243.7,473.8 247.0,486.4 250.0,493.4C253.1,500.4 256.8,505.7 260.5,511.9C264.2,518.1 268.2,524.9 272.1,530.5C276.0,536.1 279.0,540.2 283.7,545.6C288.3,551.0 293.7,556.6 299.9,563.0C306.1,569.4 313.5,576.9 320.8,583.9C328.2,590.8 336.3,598.4 344.0,604.7C351.7,611.1 358.5,616.3 367.2,622.1C375.9,627.9 387.7,634.8 396.2,639.5C404.7,644.3 410.3,647.0 418.3,650.7C426.2,654.3 435.2,658.1 443.8,661.6C452.4,665.0 465.6,669.7 470.0,671.3 M244.2,469.9C245.4,473.3 248.6,483.3 251.2,489.9C253.8,496.5 258.6,506.3 260.0,509.6 M261.2,469.9 L261.9,486.4 L264.0,492.2 M262.8,469.9 L263.3,484.1 L264.0,492.2 M274.9,469.9 L264.0,492.2 M259.3,469.9 L260.0,508.4 M281.4,546.7 L257.0,574.1 M285.5,550.9 L260.0,577.4 M283.7,545.6 L285.5,550.9 M243.1,574.6 L251.2,576.9 L258.2,574.1 M243.1,574.6 L240.8,579.2 L246.6,582.0 L257.0,581.1 L260.0,577.4 M396.2,639.5C401.1,637.6 416.5,631.2 425.2,627.9C433.9,624.6 441.0,622.3 448.4,619.8C455.9,617.3 466.4,614.0 470.0,612.9 M418.3,650.7C422.5,649.0 435.2,643.8 443.8,640.7C452.4,637.6 465.6,633.3 470.0,631.9 M137.9,469.9C137.8,472.2 137.4,480.2 137.1,483.5C136.9,486.8 135.6,487.1 136.3,489.7C137.1,492.3 139.6,496.3 141.8,499.0C144.0,501.7 146.9,504.3 149.5,506.0C152.1,507.6 154.7,508.4 157.2,509.0C159.8,509.7 163.7,510.0 165.0,510.1 M150.6,469.9 L145.6,500.5 M170.4,435.6 L159.6,600.0 M159.6,600.0 L155.3,680.0 L150.3,776.7 L145.6,850.1 L144.5,873.3 L147.2,910.1 L163.8,970.0 L195.9,1022.2 L248.9,1066.7 L301.1,1105.4 L339.8,1130.5 L374.6,1147.9 L422.9,1163.4 L471.2,1175.0 L502.2,1180.0 M143.7,864.8 L143.7,874.1 M502.2,1180.0C507.3,1180.7 523.3,1183.0 532.9,1184.2C542.6,1185.4 549.0,1185.9 560.0,1187.3C571.0,1188.7 582.6,1190.7 598.7,1192.3C614.8,1193.9 637.3,1196.2 656.7,1197.0C676.0,1197.7 694.7,1197.6 714.7,1197.0C734.7,1196.3 757.2,1194.8 776.6,1193.1C795.9,1191.4 813.6,1188.8 830.7,1186.5C847.8,1184.3 862.9,1182.5 879.0,1179.6C895.1,1176.7 912.9,1173.0 927.4,1169.1C941.9,1165.3 953.8,1160.7 966.0,1156.4C978.3,1152.0 987.1,1149.3 1000.8,1142.8C1014.6,1136.4 1035.8,1125.2 1048.3,1117.5C1060.9,1109.8 1067.8,1103.0 1076.2,1096.6C1084.6,1090.3 1087.8,1088.8 1098.8,1079.2C1109.8,1069.7 1129.8,1052.8 1142.3,1039.2C1154.8,1025.6 1165.5,1010.8 1173.6,997.4C1181.7,984.1 1186.9,968.0 1191.0,959.2C1195.2,950.3 1197.4,947.0 1198.7,944.5 M1001.4,1141.9 L995.4,1229.9 M1048.3,1117.5 L1042.4,1229.9 M1076.2,1096.6 L1061.6,1229.9 M1098.8,1079.2 L1081.4,1229.9 M877.9,1230.0C878.0,1243.0 877.8,1288.5 878.6,1308.0C879.3,1327.4 880.2,1332.9 882.5,1346.9C884.8,1361.0 888.4,1378.3 892.2,1392.4C896.0,1406.5 900.6,1419.8 905.2,1431.4C909.8,1443.0 915.0,1453.6 919.8,1462.3C924.7,1470.9 929.9,1477.4 934.5,1483.4C939.1,1489.3 942.6,1493.9 947.4,1498.0C952.3,1502.0 957.7,1505.2 963.7,1507.7C969.6,1510.3 977.2,1512.5 983.2,1513.2C989.1,1514.0 994.5,1512.9 999.4,1511.9C1004.3,1511.0 1007.5,1510.6 1012.4,1507.7C1017.3,1504.9 1023.8,1499.9 1028.7,1494.7C1033.5,1489.6 1037.9,1483.6 1041.6,1476.9C1045.4,1470.1 1048.7,1462.8 1051.4,1454.1C1054.1,1445.5 1056.8,1429.8 1057.9,1424.9 M1081.3,1230.0 L1067.6,1350.2 L1057.9,1424.9 M994.5,1230.0C993.2,1251.7 988.6,1326.9 986.4,1359.9C984.3,1393.0 982.9,1412.4 981.6,1428.1C980.2,1443.8 980.2,1446.8 978.3,1454.1C976.4,1461.4 973.4,1467.4 970.2,1472.0C966.9,1476.6 963.1,1479.7 958.8,1481.7C954.5,1483.8 946.6,1483.9 944.2,1484.3 M892.2,1269.0C893.9,1265.2 895.7,1263.8 898.7,1262.5C901.7,1261.1 905.8,1259.2 910.1,1260.9C914.4,1262.5 919.6,1265.5 924.7,1272.2C929.9,1279.0 936.1,1291.2 941.0,1301.5C945.8,1311.7 950.4,1323.1 953.9,1333.9C957.5,1344.8 960.0,1355.6 962.1,1366.4C964.1,1377.3 966.0,1388.6 966.3,1398.9C966.6,1409.2 965.2,1420.6 963.7,1428.1C962.2,1435.7 960.2,1440.9 957.2,1444.4C954.2,1447.9 949.9,1449.8 945.8,1449.3C941.8,1448.7 937.4,1446.3 932.8,1441.1C928.2,1436.0 923.1,1428.1 918.2,1418.4C913.3,1408.7 907.9,1395.1 903.6,1382.7C899.3,1370.2 894.8,1355.6 892.2,1343.7C889.6,1331.8 888.5,1321.0 888.0,1311.2C887.5,1301.5 888.3,1292.3 889.0,1285.2C889.7,1278.2 890.6,1272.8 892.2,1269.0Z M944.2,1449.3 L941.6,1486.6 M1043.3,1230.0C1041.9,1251.7 1037.3,1324.7 1035.2,1359.9C1033.0,1395.1 1031.6,1422.7 1030.3,1441.1C1028.9,1459.5 1028.9,1461.7 1027.0,1470.4C1025.1,1479.0 1021.9,1486.6 1018.9,1493.1C1015.9,1499.6 1010.8,1506.6 1009.2,1509.4 M1061.1,1230.0C1059.0,1248.9 1051.9,1311.2 1048.1,1343.7C1044.4,1376.2 1040.6,1404.9 1038.4,1424.9C1036.2,1444.9 1037.0,1453.6 1035.2,1463.9C1033.3,1474.2 1030.8,1479.3 1027.0,1486.6C1023.2,1493.9 1014.8,1504.2 1012.4,1507.7 M981.6,1429.8C985.1,1431.9 993.7,1440.8 1002.7,1442.8C1011.6,1444.8 1027.6,1442.7 1035.2,1441.8C1042.7,1440.9 1044.4,1440.1 1048.1,1437.2C1051.9,1434.4 1056.3,1427.0 1057.9,1424.9 M1012.4,1322.6C1017.8,1324.2 1034.1,1328.3 1044.9,1332.3C1055.7,1336.4 1067.6,1341.3 1077.4,1346.9C1087.1,1352.6 1095.8,1358.8 1103.4,1366.4C1110.9,1374.0 1116.4,1383.8 1122.9,1392.4C1129.4,1401.1 1135.8,1411.4 1142.3,1418.4C1148.8,1425.4 1154.3,1430.0 1161.8,1434.6C1169.4,1439.2 1178.6,1442.5 1187.8,1446.0C1197.0,1449.5 1212.2,1454.1 1217.1,1455.8 M248.1,1066.7C248.0,1095.1 247.4,1178.8 247.2,1237.0C247.1,1295.2 246.8,1378.8 247.2,1415.7C247.7,1452.5 248.1,1444.3 249.8,1457.9C251.6,1471.4 254.4,1483.9 258.0,1496.9C261.5,1509.9 266.1,1523.4 271.0,1535.8C275.8,1548.3 281.8,1561.3 287.2,1571.6C292.6,1581.9 298.0,1589.4 303.4,1597.6C308.8,1605.7 314.8,1614.3 319.7,1620.3C324.5,1626.2 327.8,1629.5 332.7,1633.3C337.5,1637.1 343.0,1640.8 348.9,1643.0C354.9,1645.3 362.4,1646.7 368.4,1646.9C374.4,1647.2 379.2,1646.7 384.6,1644.7C390.1,1642.7 395.5,1639.5 400.9,1634.9C406.3,1630.3 412.5,1623.8 417.1,1617.0C421.7,1610.3 425.5,1601.3 428.5,1594.3C431.5,1587.3 433.4,1580.8 435.0,1574.8C436.6,1568.9 437.7,1561.3 438.2,1558.6 M438.2,1558.6C439.0,1548.3 441.2,1518.0 443.1,1496.9C445.0,1475.7 446.9,1459.0 449.6,1431.9C452.3,1404.8 456.1,1366.9 459.4,1334.4C462.6,1302.0 466.6,1263.4 469.1,1237.0C471.6,1210.6 473.5,1186.3 474.3,1176.1 M251.6,1069.4C251.4,1097.3 250.7,1179.3 250.5,1237.0C250.3,1294.7 249.9,1377.8 250.5,1415.7C251.1,1453.6 252.0,1449.8 254.1,1464.4C256.1,1479.0 258.9,1489.8 262.8,1503.4C266.7,1516.9 273.4,1534.8 277.4,1545.6C281.5,1556.4 285.6,1564.5 287.2,1568.3 M374.6,1148.7C374.2,1163.4 373.6,1195.2 372.3,1237.0C371.0,1278.8 368.5,1350.7 366.8,1399.4C365.0,1448.1 363.1,1501.7 361.9,1529.3C360.7,1557.0 360.1,1555.3 359.3,1565.1C358.5,1574.8 358.5,1581.3 357.0,1587.8C355.6,1594.3 353.5,1599.5 350.5,1604.1C347.6,1608.7 343.2,1613.1 339.2,1615.4C335.1,1617.7 329.1,1617.7 326.2,1617.7C323.2,1617.7 322.1,1615.8 321.3,1615.4 M424.1,1164.1C423.7,1176.3 423.4,1197.8 422.0,1237.0C420.6,1276.2 417.4,1350.7 415.5,1399.4C413.6,1448.1 412.0,1499.6 410.6,1529.3C409.3,1559.1 408.5,1565.6 407.4,1578.1C406.3,1590.5 405.8,1595.9 404.1,1604.1C402.5,1612.2 400.3,1620.3 397.6,1626.8C394.9,1633.3 389.5,1640.3 387.9,1643.0 M453.8,1171.9C452.9,1182.7 450.9,1204.5 448.0,1237.0C445.1,1269.5 440.7,1323.6 436.6,1366.9C432.6,1410.2 426.9,1464.4 423.6,1496.9C420.4,1529.3 419.0,1544.5 417.1,1561.8C415.2,1579.2 414.4,1590.5 412.3,1600.8C410.1,1611.1 407.6,1616.8 404.1,1623.5C400.6,1630.3 393.3,1638.4 391.1,1641.4 M360.3,1565.1C364.1,1567.0 375.2,1574.7 383.0,1576.4C390.9,1578.2 399.5,1576.6 407.4,1575.5C415.2,1574.4 425.0,1572.8 430.1,1569.9C435.3,1567.1 436.9,1560.5 438.2,1558.6 M267.7,1418.9C269.2,1411.6 271.2,1405.1 274.2,1401.0C277.2,1397.0 281.5,1394.9 285.6,1394.5C289.6,1394.2 294.0,1395.2 298.6,1398.8C303.2,1402.3 308.6,1408.0 313.2,1415.7C317.8,1423.3 322.1,1433.5 326.2,1444.9C330.2,1456.3 334.6,1470.9 337.5,1483.9C340.5,1496.9 343.0,1511.5 344.0,1522.8C345.1,1534.2 344.8,1544.0 344.0,1552.1C343.2,1560.2 341.3,1566.6 339.2,1571.6C337.0,1576.6 334.0,1580.1 331.0,1582.0C328.1,1583.9 325.1,1584.4 321.3,1582.9C317.5,1581.5 312.9,1578.9 308.3,1573.2C303.7,1567.5 298.6,1558.8 293.7,1548.8C288.8,1538.8 283.1,1525.0 279.1,1513.1C275.0,1501.2 271.6,1488.7 269.3,1477.4C267.1,1466.0 265.7,1454.6 265.4,1444.9C265.2,1435.1 266.2,1426.2 267.7,1418.9Z M298.6,1404.3C297.2,1405.6 293.0,1407.8 290.4,1412.4C287.9,1417.0 284.8,1424.3 283.3,1431.9C281.8,1439.5 281.3,1448.1 281.7,1457.9C282.0,1467.6 283.3,1479.0 285.6,1490.4C287.8,1501.7 291.5,1515.0 295.3,1526.1C299.1,1537.2 304.0,1549.0 308.3,1557.0C312.6,1564.9 317.2,1570.4 321.3,1573.8C325.4,1577.3 329.7,1577.9 332.7,1577.4C335.6,1576.9 338.1,1572.0 339.2,1570.9 M298.6,1404.3C300.5,1405.9 306.1,1408.8 309.9,1414.0C313.7,1419.3 319.4,1432.2 321.3,1435.8 M287.2,1571.6C289.4,1575.4 297.6,1587.8 300.2,1594.3C302.8,1600.8 302.0,1606.2 302.8,1610.5C303.6,1614.9 301.7,1617.3 305.1,1620.3C308.4,1623.3 320.5,1628.4 322.9,1628.4C325.4,1628.4 320.2,1621.6 319.7,1620.3 M165.4,1248.0C167.8,1248.9 174.9,1251.3 180.0,1253.2C185.1,1255.2 191.4,1256.5 196.2,1259.7C201.1,1263.0 206.0,1266.8 209.2,1272.7C212.5,1278.7 213.8,1287.3 215.7,1295.5C217.6,1303.6 217.9,1313.9 220.6,1321.5C223.3,1329.0 227.1,1335.8 232.0,1340.9C236.8,1346.1 242.8,1348.6 249.8,1352.3C256.9,1356.0 270.1,1361.2 274.2,1363.0 M379.8,1417.3C384.4,1418.6 398.4,1422.4 407.4,1425.4C416.3,1428.4 425.2,1431.4 433.4,1435.1C441.5,1438.9 449.1,1442.7 456.1,1448.1C463.1,1453.6 469.6,1460.6 475.6,1467.6C481.5,1474.7 486.4,1482.8 491.8,1490.4C497.2,1497.9 502.1,1506.6 508.1,1513.1C514.0,1519.6 520.0,1524.5 527.6,1529.3C535.1,1534.2 544.1,1538.7 553.5,1542.3C563.0,1546.0 579.3,1549.9 584.4,1551.4 M64.0,248.5C67.3,250.3 77.5,255.7 83.5,259.6C89.6,263.5 95.6,267.8 100.2,271.7C104.9,275.5 108.4,278.8 111.4,282.8C114.3,286.8 116.3,290.9 117.9,295.8C119.5,300.8 120.6,306.6 121.0,312.5C121.4,318.4 120.6,324.9 120.3,331.1C119.9,337.3 119.0,343.8 118.8,349.6C118.6,355.5 118.5,360.8 119.2,366.3C119.8,371.9 120.7,377.8 122.5,383.0C124.3,388.3 126.8,392.9 129.9,397.9C133.0,402.8 137.4,408.6 141.1,412.7C144.8,416.9 148.6,419.7 152.2,422.9C155.8,426.2 158.0,428.6 162.5,432.1C167.1,435.6 173.5,440.1 179.6,444.0C185.6,447.8 195.9,453.2 199.1,455.0 M474.1,145.1 L522.1,145.5 M459.4,147.5 L471.8,145.5 M200.0,284.0C198.1,285.8 192.9,290.6 188.9,294.6C184.9,298.5 179.9,303.7 175.8,307.8C171.8,312.0 167.2,316.5 164.6,319.8C161.9,323.0 160.8,325.3 159.8,327.6C158.8,329.9 158.7,332.4 158.5,333.4"/>
<path class="t" d="M213.2,304.4 L213.2,367.4 M191.5,324.9 L191.5,354.6 M254.4,441.4 L252.7,470.0 M1029.2,211.0C1033.1,212.3 1044.7,216.0 1052.4,219.3C1060.1,222.6 1067.3,225.8 1075.6,230.9C1083.9,236.0 1097.8,246.8 1102.3,249.9 M1161.4,485.6 L1161.8,500.0 M1162.3,499.9 L1164.8,557.0 M1214.1,575.7 L1213.1,692.7 M1171.7,729.9 L1171.7,823.0 M252.6,469.9 L251.2,489.9 M877.8,1180.2 L877.8,1229.9"/>
<path class="b" d="M450.6,163.4 L536.5,145.3 M875.7,165.7 L885.0,174.3 M878.8,160.7 L888.7,169.4 M888.1,170.6 L897.4,178.1 M883.7,176.8 L893.0,184.2 M918.2,1461.3 L939.3,1488.2 M301.8,1597.6 L322.9,1626.8"/>
<defs><filter id="thin" x="-10%" y="-10%" width="120%" height="120%" color-interpolation-filters="sRGB"><feMorphology operator="erode" radius="1 2"/><feGaussianBlur stdDeviation="0.5"/><feComponentTransfer><feFuncA type="linear" slope="4.5" intercept="-0.2"/></feComponentTransfer></filter></defs>
<text class="lb" aria-label="10" y="54.0" filter="url(#thin)"><tspan x="900.20" textLength="21.66" lengthAdjust="spacingAndGlyphs" class="fm" font-size="72.18">1</tspan><tspan x="925.32" textLength="23.42" lengthAdjust="spacingAndGlyphs" class="fs" font-size="65.93">0</tspan></text>
<text class="lb" aria-label="11" y="257.9" filter="url(#thin)"><tspan x="3.20" textLength="21.66" lengthAdjust="spacingAndGlyphs" class="fm" font-size="72.18">1</tspan><tspan x="26.60" textLength="21.66" lengthAdjust="spacingAndGlyphs" class="fm" font-size="72.18">1</tspan></text>
<text class="lb" aria-label="111" y="423.4" filter="url(#thin)"><tspan x="414.50" textLength="21.66" lengthAdjust="spacingAndGlyphs" class="fm" font-size="72.18">1</tspan><tspan x="437.50" textLength="21.66" lengthAdjust="spacingAndGlyphs" class="fm" font-size="72.18">1</tspan><tspan x="460.50" textLength="21.66" lengthAdjust="spacingAndGlyphs" class="fm" font-size="72.18">1</tspan></text>
<text class="lb" aria-label="112" y="487.8" filter="url(#thin)"><tspan x="937.90" textLength="21.66" lengthAdjust="spacingAndGlyphs" class="fm" font-size="72.18">1</tspan><tspan x="960.90" textLength="21.66" lengthAdjust="spacingAndGlyphs" class="fm" font-size="72.18">1</tspan><tspan x="984.02" textLength="34.97" lengthAdjust="spacingAndGlyphs" class="fm" font-size="72.18">2</tspan></text>
<text class="lb" aria-label="101" y="1257.8" filter="url(#thin)"><tspan x="89.50" textLength="21.66" lengthAdjust="spacingAndGlyphs" class="fm" font-size="72.18">1</tspan><tspan x="115.43" textLength="23.18" lengthAdjust="spacingAndGlyphs" class="fs" font-size="65.93">0</tspan><tspan x="141.30" textLength="21.66" lengthAdjust="spacingAndGlyphs" class="fm" font-size="72.18">1</tspan></text>
<text class="lb" aria-label="13" y="1589.6" filter="url(#thin)"><tspan x="590.90" textLength="21.66" lengthAdjust="spacingAndGlyphs" class="fm" font-size="72.18">1</tspan><tspan x="615.52" textLength="33.07" lengthAdjust="spacingAndGlyphs" class="fm" font-size="72.18">3</tspan></text>
<text class="lb" aria-label="12" y="1494.6" filter="url(#thin)"><tspan x="1223.00" textLength="21.66" lengthAdjust="spacingAndGlyphs" class="fm" font-size="72.18">1</tspan><tspan x="1247.16" textLength="33.79" lengthAdjust="spacingAndGlyphs" class="fm" font-size="72.18">2</tspan></text>

</svg>
</body></html>
